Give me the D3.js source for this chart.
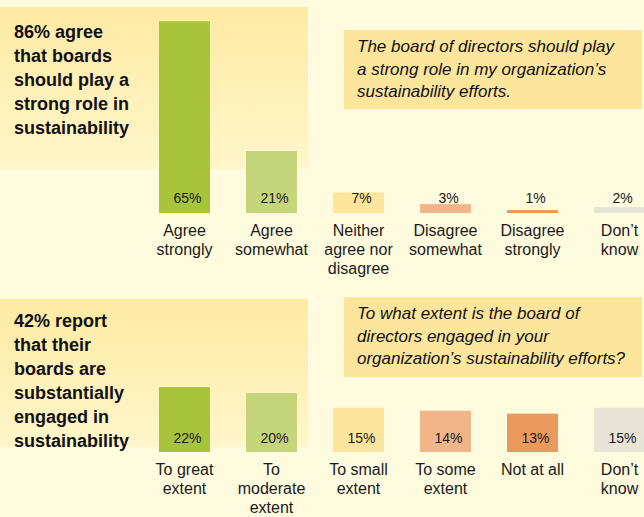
<!DOCTYPE html>
<html lang="en">
<head>
<meta charset="UTF-8">
<title>boards and sustainability</title>
<script src="https://cdn.jsdelivr.net/npm/d3@7"></script>
<style>
  body { margin: 0; background: #fffbdf; }
  svg { display: block; font-family: "Liberation Sans", Arial, sans-serif; }
</style>
</head>
<body>
<script>
// data
const roleHeadline = ["86% agree", "that boards", "should play a", "strong role in", "sustainability"];
const roleQuestion = ["The board of directors should play", "a strong role in my organization\u2019s", "sustainability efforts."];
const roleCategories = [["Agree", "strongly"], ["Agree", "somewhat"], ["Neither", "agree nor", "disagree"], ["Disagree", "somewhat"], ["Disagree", "strongly"], ["Don\u2019t", "know"]];
const roleValues = [65, 21, 7, 3, 1, 2];

const engageHeadline = ["42% report", "that their", "boards are", "substantially", "engaged in", "sustainability"];
const engageQuestion = ["To what extent is the board of", "directors engaged in your", "organization\u2019s sustainability efforts?"];
const engageCategories = [["To great", "extent"], ["To", "moderate", "extent"], ["To small", "extent"], ["To some", "extent"], ["Not at all"], ["Don\u2019t", "know"]];
const engageValues = [22, 20, 15, 14, 13, 15];

const barColours = ["#a8c43a", "#c5d57b", "#fee59e", "#f0b68a", "#eb9a5e", "#e8e5d6"];

let width = 644;
let height = 517;

let svg = d3.select("body").append("svg")
    .attr("width", width)
    .attr("height", height);

// soft yellow fade behind the headline
let grad = svg.append("defs").append("linearGradient")
    .attr("id", "fade")
    .attr("x1", 0).attr("y1", 0).attr("x2", 0).attr("y2", 1);
grad.append("stop").attr("offset", "0%").attr("stop-color", "#feeaa3");
grad.append("stop").attr("offset", "100%").attr("stop-color", "#fff6ca");

// one scale for bar height (px per percent), shared by both panels
let y = d3.scaleLinear().domain([0, 100]).range([0, 295]);

let x = d3.scaleBand()
    .domain(d3.range(6))
    .range([159, 645])
    .paddingInner(0.414)
    .paddingOuter(0)
    .align(0);

function panel(opt) {
    let g = svg.append("g");

    g.append("rect")
        .attr("x", 0).attr("y", opt.boxTop)
        .attr("width", 308).attr("height", opt.boxHeight)
        .attr("fill", "url(#fade)");

    g.append("text")
        .attr("x", 14).attr("y", opt.headTop)
        .attr("font-size", 18).attr("font-weight", "bold").attr("fill", "#111")
        .selectAll("tspan")
        .data(opt.headline)
        .enter().append("tspan")
        .attr("x", 14)
        .attr("dy", (d, i) => i ? 24 : 0)
        .text(d => d);

    g.append("rect")
        .attr("x", 344).attr("y", opt.qTop)
        .attr("width", 298).attr("height", opt.qHeight)
        .attr("fill", "#fde59c");

    g.append("text")
        .attr("x", 357).attr("y", opt.qTop + 22)
        .attr("font-size", 17).attr("font-style", "italic").attr("fill", "#111")
        .selectAll("tspan")
        .data(opt.question)
        .enter().append("tspan")
        .attr("x", 357)
        .attr("dy", (d, i) => i ? 22.5 : 0)
        .text(d => d);

    g.selectAll("rect.bar")
        .data(opt.values)
        .enter().append("rect")
        .attr("class", "bar")
        .attr("x", (d, i) => x(i))
        .attr("y", d => opt.base - y(d))
        .attr("width", x.bandwidth())
        .attr("height", d => y(d))
        .attr("fill", (d, i) => barColours[i]);

    g.selectAll("text.val")
        .data(opt.values)
        .enter().append("text")
        .attr("class", "val")
        .attr("x", (d, i) => x(i) + x.bandwidth() / 2 + 3)
        .attr("y", opt.valueY)
        .attr("text-anchor", "middle")
        .attr("font-size", 14).attr("fill", "#1a1a1a")
        .text(d => d + "%");

    g.selectAll("text.cat")
        .data(opt.categories)
        .enter().append("text")
        .attr("class", "cat")
        .attr("y", opt.base + 22.5)
        .attr("text-anchor", "middle")
        .attr("font-size", 16).attr("fill", "#1a1a1a")
        .each(function (lines, i) {
            d3.select(this).selectAll("tspan")
                .data(lines)
                .enter().append("tspan")
                .attr("x", x(i) + x.bandwidth() / 2)
                .attr("dy", (d, j) => j ? 19 : 0)
                .text(d => d);
        });
}

panel({
    headline: roleHeadline, question: roleQuestion,
    categories: roleCategories, values: roleValues,
    boxTop: 7, boxHeight: 162, headTop: 38,
    qTop: 30, qHeight: 79,
    base: 213, valueY: 203
});

panel({
    headline: engageHeadline, question: engageQuestion,
    categories: engageCategories, values: engageValues,
    boxTop: 299, boxHeight: 148, headTop: 327,
    qTop: 297, qHeight: 80,
    base: 452, valueY: 443
});
</script>
</body>
</html>
